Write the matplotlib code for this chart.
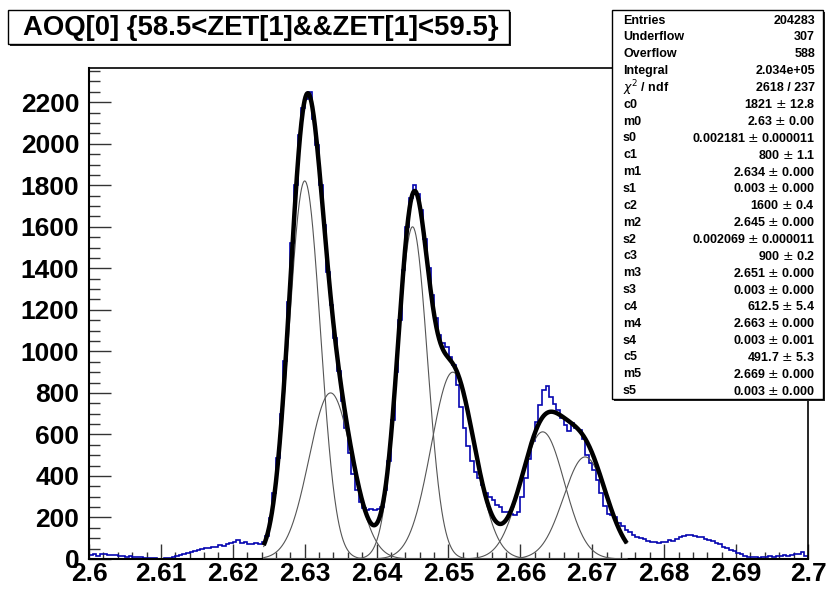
import numpy as np
import matplotlib
matplotlib.use("Agg")
import matplotlib.pyplot as plt
from matplotlib.patches import Rectangle
from matplotlib.ticker import MultipleLocator, FixedLocator, FuncFormatter

W, H, DPI = 826, 590, 100
FONT = "Liberation Sans"

# AOQ[0] histogram, counts per 0.0005 bin over 2.6 - 2.7
x_lo, x_hi = 2.6, 2.7
counts = [
    18, 22, 15, 24, 26, 20, 18, 21, 14, 16, 12, 13, 10, 8, 9, 6, 5, 4, 3, 2,
    1, 3, 6, 9, 14, 18, 24, 28, 33, 38, 44, 46, 52, 55, 60, 58, 66, 62, 74, 78,
    84, 92, 78, 80, 74, 70, 78, 74,
    84, 112, 196, 318, 488, 700, 955, 1240, 1520, 1800, 2040, 2170, 2215, 2250,
    2120, 1995, 1800, 1610, 1380, 1225, 1065, 905, 760, 630, 510, 410, 330, 275,
    245, 238, 242, 236, 240, 250, 330, 470, 670, 900, 1150, 1390, 1600, 1740,
    1800, 1760, 1680, 1540, 1400, 1270, 1160, 1080, 1040, 1020, 975, 935, 840,
    730, 630, 545, 470, 420, 390, 355, 320, 300, 285, 262, 250, 228, 226, 215,
    212, 225, 300, 390, 480, 570, 660, 740, 815, 835, 780, 748, 720, 680, 645,
    615, 655, 630, 620, 580, 500, 460, 430, 380, 320, 255, 215, 212, 200, 172,
    158, 140,
    128, 115, 108, 102, 96, 88, 84, 80, 78, 84, 82, 92, 88, 96, 104, 110, 114,
    118, 112, 108, 104, 98, 92, 86, 78, 70, 60, 54, 44, 38, 30, 22, 16, 12, 9,
    10, 7, 11, 10, 13, 12, 15, 14, 17, 15, 19, 22, 26, 32, 14,
]

# six-gaussian fit: amplitude, mean, sigma (and quoted errors)
c_vals = [1821, 800, 1600, 900, 612.5, 491.7]
m_vals = [2.6300, 2.6336, 2.6450, 2.6506, 2.6631, 2.6690]
s_vals = [0.002181, 0.0030, 0.002069, 0.0030, 0.0030, 0.0030]
c_errs = ["12.8", "1.1", "0.4", "0.2", "5.4", "5.3"]
m_errs = ["0.00", "0.000", "0.000", "0.000", "0.000", "0.000"]
s_errs = ["0.000011", "0.000", "0.000011", "0.000", "0.001", "0.000"]
fit_lo, fit_hi = 2.6243, 2.6748

title = "AOQ[0] {58.5<ZET[1]&&ZET[1]<59.5}"
head_labels = ["Entries", "Underflow", "Overflow", "Integral", "$\\chi^{2}$ / ndf"]
head_values = ["204283", "307", "588", "2.034e+05", "2618 / 237"]

x_major = [2.6, 2.61, 2.62, 2.63, 2.64, 2.65, 2.66, 2.67, 2.68, 2.69, 2.7]
y_major = [0, 200, 400, 600, 800, 1000, 1200, 1400, 1600, 1800, 2000, 2200]
y_top = 2365


def fx(px):
    return px / W


def fy(py):
    return 1 - py / H


fig = plt.figure(figsize=(W / DPI, H / DPI), dpi=DPI)
fig.patch.set_facecolor("white")
ax = fig.add_axes([fx(89), fy(559), fx(808) - fx(89), fy(68) - fy(559)])

edges = np.linspace(x_lo, x_hi, len(counts) + 1)
ax.stairs(counts, edges, color="#0505b0", linewidth=1.2, zorder=2)

xf = np.linspace(fit_lo, fit_hi, 800)
total = np.zeros_like(xf)
for c, m, s in zip(c_vals, m_vals, s_vals):
    g = c * np.exp(-0.5 * ((xf - m) / s) ** 2)
    total += g
    ax.plot(xf, g, color="#555555", linewidth=0.8, zorder=3)
ax.plot(xf, total, color="black", linewidth=3.2, zorder=4,
        solid_capstyle="butt")

ax.set_xlim(x_lo, x_hi)
ax.set_ylim(0, y_top)

ax.xaxis.set_major_locator(FixedLocator(x_major))
ax.xaxis.set_minor_locator(MultipleLocator(0.002))
ax.yaxis.set_major_locator(FixedLocator(y_major))
ax.yaxis.set_minor_locator(MultipleLocator(50))
ax.xaxis.set_major_formatter(FuncFormatter(lambda v, p: f"{round(v, 3):g}"))
ax.yaxis.set_major_formatter(FuncFormatter(lambda v, p: f"{int(round(v))}"))

ax.tick_params(axis="x", which="major", direction="in", length=10.8,
               width=1.0, color="#333333", pad=2.5)
ax.tick_params(axis="x", which="minor", direction="in", length=5.2,
               width=1.0, color="#333333")
ax.tick_params(axis="y", which="major", direction="in", length=15.5,
               width=1.0, color="#333333", pad=7)
ax.tick_params(axis="y", which="minor", direction="in", length=7.8,
               width=1.0, color="#333333")
for lab in ax.get_xticklabels() + ax.get_yticklabels():
    lab.set_fontfamily(FONT)
    lab.set_fontweight("bold")
    lab.set_fontsize(19)
for side in ["left", "bottom"]:
    ax.spines[side].set_linewidth(1.5)
for side in ["top", "right"]:
    ax.spines[side].set_linewidth(1.2)


def pave(x0, y0, x1, y1, shadow=2):
    fig.patches.append(Rectangle((fx(x0 + shadow), fy(y1 + shadow)),
                                 fx(x1 - x0), fy(0) - fy(y1 - y0),
                                 transform=fig.transFigure, facecolor="#222222",
                                 edgecolor="none", zorder=10))
    fig.patches.append(Rectangle((fx(x0), fy(y1)), fx(x1 - x0),
                                 fy(0) - fy(y1 - y0),
                                 transform=fig.transFigure, facecolor="white",
                                 edgecolor="black", linewidth=1.0, zorder=11))


# title pave
pave(8, 10, 509, 44)
fig.text(fx(261), fy(28), title, fontfamily=FONT, fontweight="bold",
         fontsize=19.8, ha="center", va="center", zorder=12)

# statistics pave
pave(612, 10, 823, 399)
labels = list(head_labels)
values = list(head_values)
for i in range(6):
    labels += [f"c{i}", f"m{i}", f"s{i}"]
    values += [f"{c_vals[i]:.4g} $\\pm$ {c_errs[i]}",
               f"{m_vals[i]:.4g} $\\pm$ {m_errs[i]}",
               f"{s_vals[i]:.4g} $\\pm$ {s_errs[i]}"]
row0, dy = 20.5, 16.85
for i, (lab, val) in enumerate(zip(labels, values)):
    y = fy(row0 + dy * i)
    fig.text(fx(623), y, lab, fontfamily=FONT, fontweight="bold", fontsize=9,
             ha="left", va="center", zorder=12)
    fig.text(fx(815), y, val, fontfamily=FONT, fontweight="bold", fontsize=9,
             ha="right", va="center", zorder=12)

fig.savefig("out.png", dpi=DPI)
